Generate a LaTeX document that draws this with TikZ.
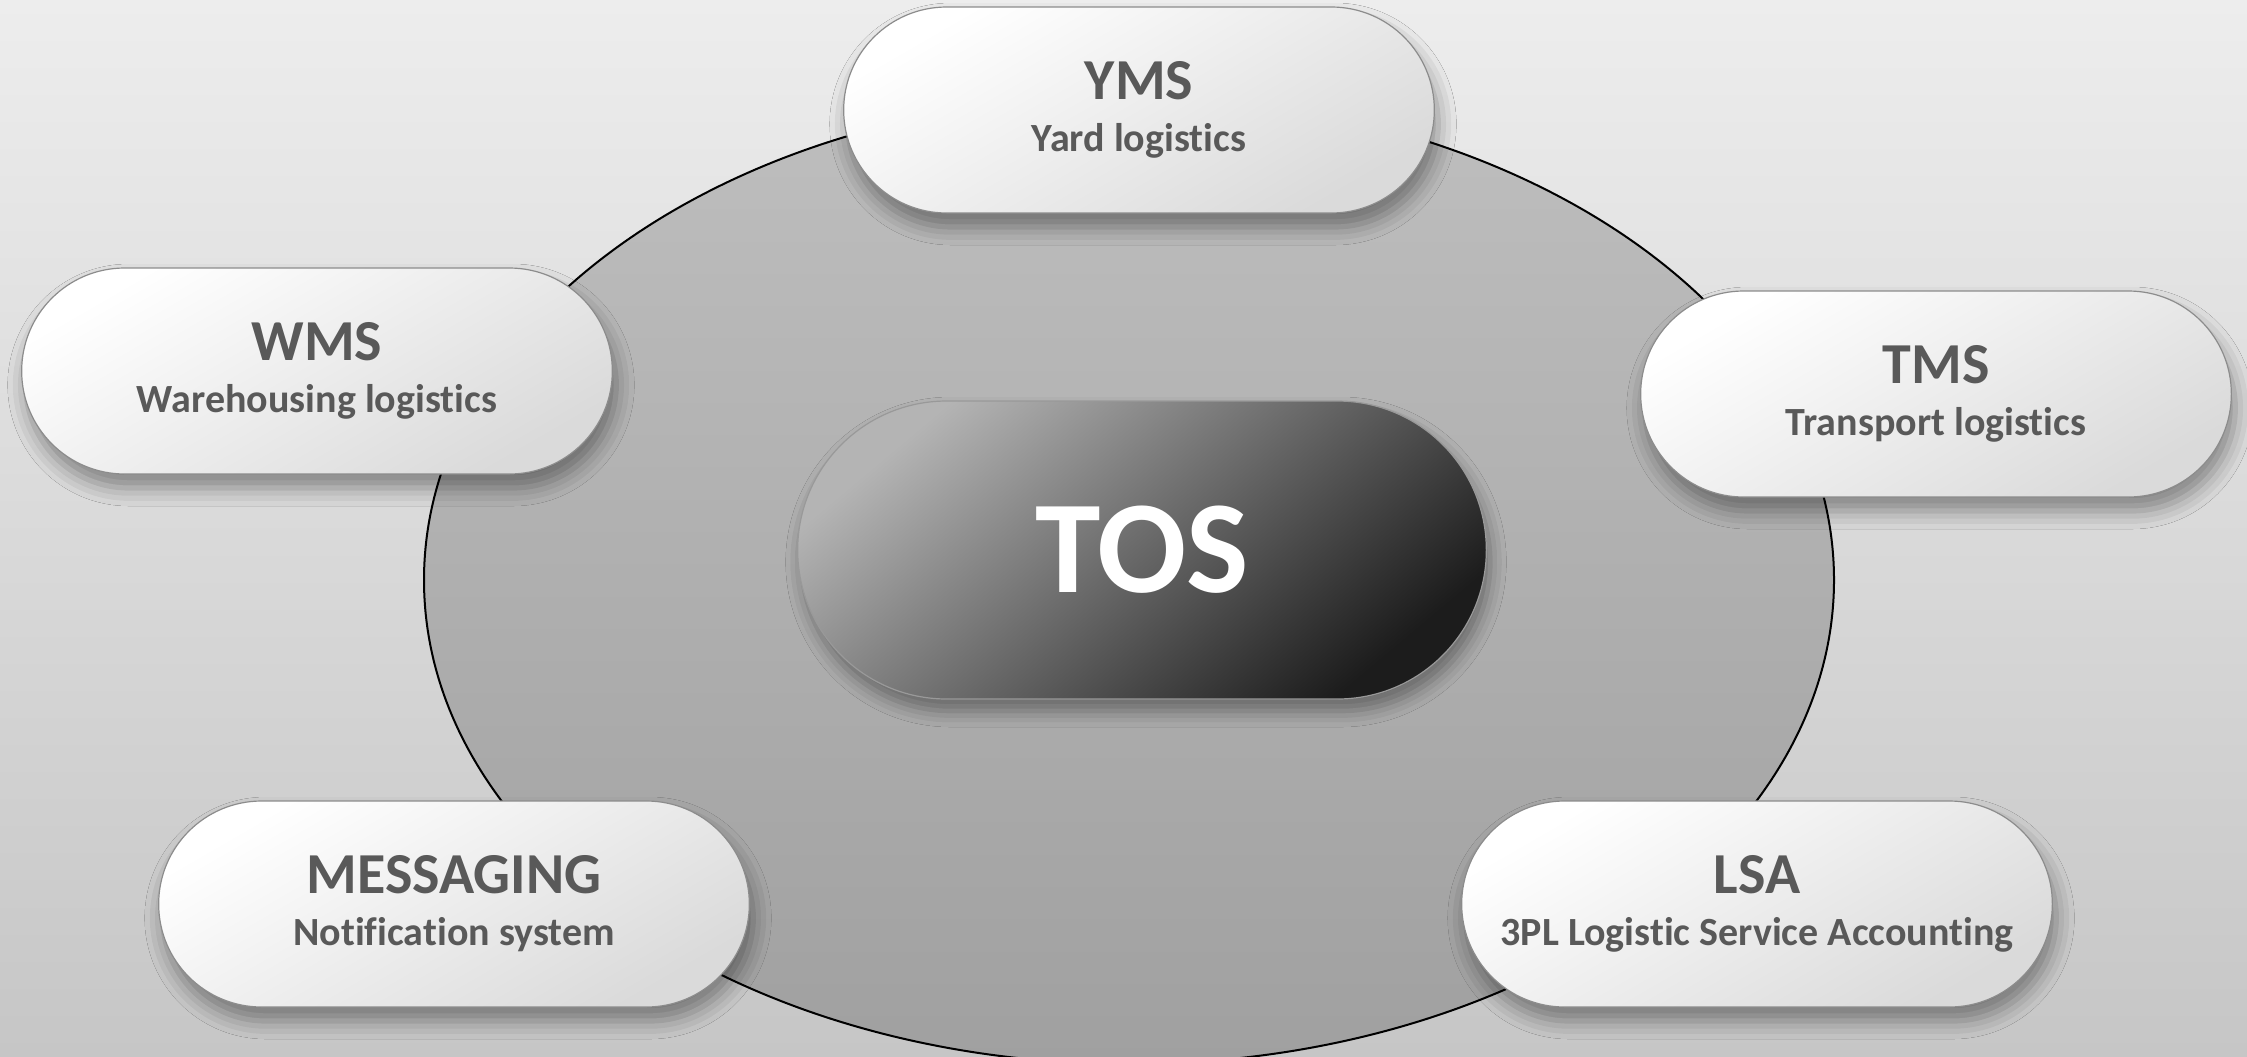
\documentclass[tikz,border=0pt]{standalone}
\usepackage{fontspec}
\setmainfont{Carlito}[Ligatures=NoCommon]
\usetikzlibrary{shapes.misc,shadows.blur}
\definecolor{txt}{HTML}{595959}
\definecolor{bgtop}{HTML}{EDEDED}
\definecolor{bgbot}{HTML}{C6C6C6}
\definecolor{elltop}{HTML}{BEBEBE}
\definecolor{ellbot}{HTML}{A0A0A0}
\definecolor{pillbot}{HTML}{DADADA}
\definecolor{toslight}{HTML}{B4B4B4}
\definecolor{tosmid}{HTML}{5C5C5C}
\definecolor{tosdark}{HTML}{1C1C1C}
\begin{document}
\begin{tikzpicture}[x=0.5pt,y=-0.5pt,
  pill/.style={rounded rectangle, minimum width=302pt, minimum height=103pt,
    draw=black!45, line width=0.6pt, top color=white, bottom color=pillbot,
    shading angle=30,
    blur shadow={shadow xshift=2pt, shadow yshift=-7pt, shadow blur radius=9pt, shadow opacity=40},
    align=center, text=txt, font=\fontsize{20}{26}\selectfont\bfseries},
  tosbox/.style={rounded rectangle, minimum width=351pt, minimum height=149pt,
    draw=black!40, line width=0.6pt, top color=toslight, middle color=tosmid, bottom color=tosdark,
    shading angle=40,
    blur shadow={shadow xshift=2pt, shadow yshift=-6pt, shadow blur radius=8pt, shadow opacity=40},
    text=white, font=\fontsize{66}{70}\selectfont\bfseries}
]
\useasboundingbox (0,0) rectangle (2247,1056);
\shade[top color=bgtop, bottom color=bgbot] (0,0) rectangle (2247,1056);
\begin{scope}
\clip (0,0) rectangle (2247,1056);
\draw[line width=1pt, top color=elltop, bottom color=ellbot] (1129,580) ellipse [x radius=705, y radius=484];
\end{scope}
\node[pill] (yms) at (1139,110) {{\fontsize{29}{26}\selectfont YMS}\\Yard logistics};
\node[pill] (wms) at (317,371) {{\fontsize{29}{26}\selectfont WMS}\\Warehousing logistics};
\node[pill] (tms) at (1936,394) {{\fontsize{29}{26}\selectfont TMS}\\Transport logistics};
\node[pill] (msg) at (454,904) {{\fontsize{29}{26}\selectfont MESSAGING}\\Notification system};
\node[pill] (lsa) at (1757,904) {{\fontsize{29}{26}\selectfont LSA}\\3PL Logistic Service Accounting};
\node[tosbox] (tos) at (1142,550) {TOS};
\end{tikzpicture}
\end{document}
